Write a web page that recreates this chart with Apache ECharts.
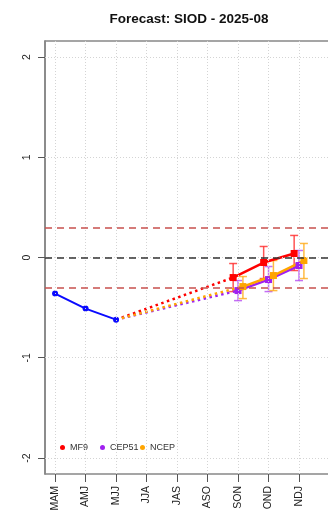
<!DOCTYPE html>
<html>
<head>
<meta charset="utf-8">
<script src="https://cdn.jsdelivr.net/npm/echarts@6/dist/echarts.min.js"></script>
<style>
html, body { margin: 0; padding: 0; background: #fff; }
#chart { width: 328px; height: 515px; }
</style>
</head>
<body>
<div id="chart"></div>
<script>
// seasons on the x axis (index = position)
const seasons = ['MAM', 'AMJ', 'MJJ', 'JJA', 'JAS', 'ASO', 'SON', 'OND', 'NDJ'];
const yTicks = [-2, -1, 0, 1, 2];

// observed index
const obsSeasons = ['MAM', 'AMJ', 'MJJ'];
const obsValues = [-0.36, -0.51, -0.62];

// forecasts
const fcSeasons = ['SON', 'OND', 'NDJ'];
const mf9Mean = [-0.20, -0.05, 0.04];
const mf9Low = [-0.34, -0.21, -0.13];
const mf9High = [-0.06, 0.11, 0.22];
const cep51Mean = [-0.33, -0.22, -0.08];
const cep51Low = [-0.43, -0.34, -0.23];
const cep51High = [-0.23, -0.09, 0.07];
const ncepMean = [-0.29, -0.18, -0.03];
const ncepLow = [-0.41, -0.33, -0.21];
const ncepHigh = [-0.19, -0.03, 0.14];

const threshold = 0.3;

const models = [
    { name: 'MF9', mean: mf9Mean, low: mf9Low, high: mf9High, color: '#ff0000', bar: 'rgba(255,40,40,0.8)', shift: -0.16, legendX: 60 },
    { name: 'CEP51', mean: cep51Mean, low: cep51Low, high: cep51High, color: '#a020f0', bar: 'rgba(176,64,240,0.75)', shift: 0, legendX: 100 },
    { name: 'NCEP', mean: ncepMean, low: ncepLow, high: ncepHigh, color: '#ffa500', bar: 'rgba(255,170,20,0.8)', shift: 0.16, legendX: 140 }
];

const font = 'Liberation Sans, Arial, sans-serif';
const chart = echarts.init(document.getElementById('chart'));

const lastObs = [seasons.indexOf(obsSeasons[obsSeasons.length - 1]), obsValues[obsValues.length - 1]];

const series = [];

// grid lines (dotted)
series.push({
    type: 'line',
    data: [],
    silent: true,
    markLine: {
        silent: true,
        symbol: 'none',
        label: { show: false },
        lineStyle: { color: '#d4d4d4', type: [1, 2], width: 1 },
        data: seasons.map((s, i) => ({ xAxis: i })).concat(yTicks.map(v => ({ yAxis: v })))
    }
});

// reference lines
series.push({
    type: 'line',
    data: [],
    silent: true,
    z: 3,
    markLine: {
        silent: true,
        symbol: 'none',
        label: { show: false },
        data: [
            { yAxis: threshold, lineStyle: { color: '#c8504e', type: [7, 5], width: 1.5 } },
            { yAxis: -threshold, lineStyle: { color: '#c8504e', type: [7, 5], width: 1.5 } },
            { yAxis: 0, lineStyle: { color: '#333', type: [7, 5], width: 1.5 } }
        ]
    }
});

// observed
series.push({
    type: 'line',
    name: 'obs',
    data: obsSeasons.map((s, i) => [seasons.indexOf(s), obsValues[i]]),
    symbol: 'circle',
    symbolSize: 6,
    itemStyle: { color: '#0a0aff' },
    lineStyle: { color: '#0a0aff', width: 2 },
    z: 4
});

models.forEach(m => {
    const pts = fcSeasons.map((s, i) => [seasons.indexOf(s) + m.shift, m.mean[i]]);
    // dotted link from last observation
    series.push({
        type: 'line',
        name: m.name + '-link',
        data: [lastObs, pts[0]],
        symbol: 'none',
        lineStyle: { color: m.color, type: [2.5, 3.5], width: 2.5 },
        z: 4
    });
    // error bars
    series.push({
        type: 'custom',
        name: m.name + '-err',
        data: fcSeasons.map((s, i) => [seasons.indexOf(s) + m.shift, m.low[i], m.high[i]]),
        encode: { x: 0, y: [1, 2] },
        z: 4,
        renderItem: function (params, api) {
            const lo = api.coord([api.value(0), api.value(1)]);
            const hi = api.coord([api.value(0), api.value(2)]);
            const w = 4;
            const st = { stroke: m.bar, lineWidth: 1.5 };
            return {
                type: 'group',
                children: [
                    { type: 'line', shape: { x1: lo[0], y1: lo[1], x2: hi[0], y2: hi[1] }, style: st },
                    { type: 'line', shape: { x1: lo[0] - w, y1: lo[1], x2: lo[0] + w, y2: lo[1] }, style: st },
                    { type: 'line', shape: { x1: hi[0] - w, y1: hi[1], x2: hi[0] + w, y2: hi[1] }, style: st }
                ]
            };
        }
    });
    // forecast line
    series.push({
        type: 'line',
        name: m.name,
        data: pts,
        symbol: 'rect',
        symbolSize: 7,
        itemStyle: { color: m.color },
        lineStyle: { color: m.color, width: 2.5 },
        z: 4
    });
});

const axisColor = '#888';

// one legend per model so the entries sit in equal columns
const legends = models.map(m => ({
    data: [m.name],
    left: m.legendX,
    top: 443,
    padding: 0,
    icon: 'circle',
    itemWidth: 5,
    itemHeight: 5,
    textStyle: { fontFamily: font, fontSize: 9, color: '#333' }
}));

const option = {
    animation: false,
    title: {
        text: 'Forecast: SIOD - 2025-08',
        left: 184,
        textAlign: 'center',
        top: 7,
        textStyle: { fontFamily: font, fontSize: 13.5, fontWeight: 'bold', color: '#111' }
    },
    legend: legends,
    grid: {
        left: 45,
        right: 0,
        top: 41,
        bottom: 41
    },
    xAxis: [{
        type: 'value',
        min: -0.33,
        max: 8.95,
        splitLine: { show: false },
        axisLine: { show: true, onZero: false, lineStyle: { color: axisColor, width: 1.5 } },
        axisTick: { show: true, length: 8, lineStyle: { color: '#555' }, customValues: seasons.map((s, i) => i) },
        axisLabel: {
            rotate: 90,
            margin: 12,
            fontFamily: font,
            fontSize: 10.5,
            color: '#222',
            customValues: seasons.map((s, i) => i),
            formatter: v => seasons[Math.round(v)]
        }
    }, {
        // top frame line
        type: 'value',
        position: 'top',
        min: -0.33,
        max: 8.95,
        splitLine: { show: false },
        axisLine: { show: true, onZero: false, lineStyle: { color: axisColor, width: 1.5 } },
        axisTick: { show: false },
        axisLabel: { show: false }
    }],
    yAxis: {
        type: 'value',
        min: -2.16,
        max: 2.16,
        splitLine: { show: false },
        axisLine: { show: true, onZero: false, lineStyle: { color: '#666', width: 1.5 } },
        axisTick: { show: true, length: 7, lineStyle: { color: '#555' }, customValues: yTicks },
        axisLabel: {
            rotate: 90,
            margin: 12,
            fontFamily: font,
            fontSize: 10.5,
            color: '#222',
            customValues: yTicks
        }
    },
    series: series
};

chart.setOption(option);
</script>
</body>
</html>
